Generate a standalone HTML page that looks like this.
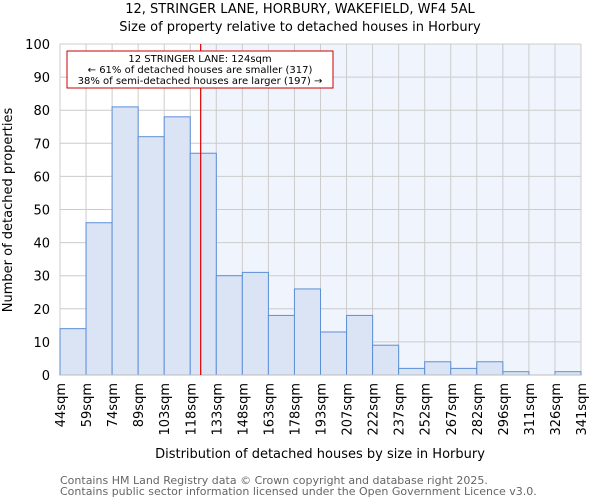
<!DOCTYPE html>
<html><head><meta charset="utf-8"><style>
body{margin:0;background:#fff;font-family:"DejaVu Sans","Liberation Sans",sans-serif;}
</style></head><body>
<svg id="chart" width="600" height="500" xmlns="http://www.w3.org/2000/svg" font-family="DejaVu Sans, Liberation Sans, sans-serif">
<text x="300" y="13" text-anchor="middle" font-size="13">12, STRINGER LANE, HORBURY, WAKEFIELD, WF4 5AL</text>
<text x="300" y="31" text-anchor="middle" font-size="13">Size of property relative to detached houses in Horbury</text>
<g id="plot"></g>
<text transform="translate(12,210) rotate(-90)" text-anchor="middle" font-size="13">Number of detached properties</text>
<text x="320" y="458" text-anchor="middle" font-size="13">Distribution of detached houses by size in Horbury</text>
<text x="60" y="484" font-size="11" fill="#666">Contains HM Land Registry data © Crown copyright and database right 2025.</text>
<text x="60" y="495" font-size="11" fill="#666">Contains public sector information licensed under the Open Government Licence v3.0.</text>
</svg>
<script>
const binLabels=["44sqm","59sqm","74sqm","89sqm","103sqm","118sqm","133sqm","148sqm","163sqm","178sqm","193sqm","207sqm","222sqm","237sqm","252sqm","267sqm","282sqm","296sqm","311sqm","326sqm","341sqm"];
const counts=[14,46,81,72,78,67,30,31,18,26,13,18,9,2,4,2,4,1,0,1];
const yTicks=[0,10,20,30,40,50,60,70,80,90,100];
const markerValue=124;
const binEdges=[44,59,74,89,103,118,133,148,163,178,193,207,222,237,252,267,282,296,311,326,341];
const X0=60,X1=581,Y0=375,Y1=44,YMAX=100;
const ns="http://www.w3.org/2000/svg";
const g=document.getElementById('plot');
const bw=(X1-X0)/counts.length;
const xi=i=>X0+i*bw;
const y=v=>Y0-(v/YMAX)*(Y0-Y1);
function xv(v){for(let i=0;i<binEdges.length-1;i++){if(v<=binEdges[i+1])return xi(i)+(v-binEdges[i])/(binEdges[i+1]-binEdges[i])*bw;}return X1;}
function mk(t,a){const e=document.createElementNS(ns,t);for(const k in a)e.setAttribute(k,a[k]);g.appendChild(e);return e;}
const mx=xv(markerValue);
let e=mk('rect',{x:mx,y:Y1,width:X1-mx,height:Y0-Y1,fill:'#f0f4fc'});


yTicks.forEach(t=>{
 let l=mk('line',{x1:X0,x2:X1,y1:y(t),y2:y(t),stroke:'#cccccc','stroke-width':1});
 
 
 let tx=mk('text',{x:X0-10,y:y(t)+5,'text-anchor':'end','font-size':13});
 tx.textContent=t;
 
 
});
binLabels.forEach((lab,i)=>{
 let l=mk('line',{x1:xi(i),x2:xi(i),y1:Y1,y2:Y0,stroke:'#cccccc','stroke-width':1});
 
 
 let tx=mk('text',{transform:`translate(${xi(i)+5},${Y0+8}) rotate(-90)`,'text-anchor':'end','font-size':13});
 tx.textContent=lab;
 
 
});
counts.forEach((c,i)=>{
 if(c<=0)return;
 let r=mk('rect',{x:xi(i),y:y(c),width:bw,height:Y0-y(c),fill:'#dae4f4',stroke:'#5b8fd6','stroke-width':1});
 
 
});
let ax=mk('line',{x1:X0,x2:X1,y1:Y0,y2:Y0,stroke:'#bbb'});


let ml=mk('line',{x1:mx,x2:mx,y1:Y1,y2:Y0,stroke:'#dd0000','stroke-width':1.2});


let box=mk('rect',{x:67,y:51,width:266,height:37,fill:'#fff',stroke:'#cc0000','stroke-width':1});


const ann=["12 STRINGER LANE: 124sqm","← 61% of detached houses are smaller (317)","38% of semi-detached houses are larger (197) →"];
ann.forEach((s,i)=>{
 let t=mk('text',{x:200,y:62+i*11,'text-anchor':'middle','font-size':10});
 t.textContent=s;
 
 
});
</script>
</body></html>
